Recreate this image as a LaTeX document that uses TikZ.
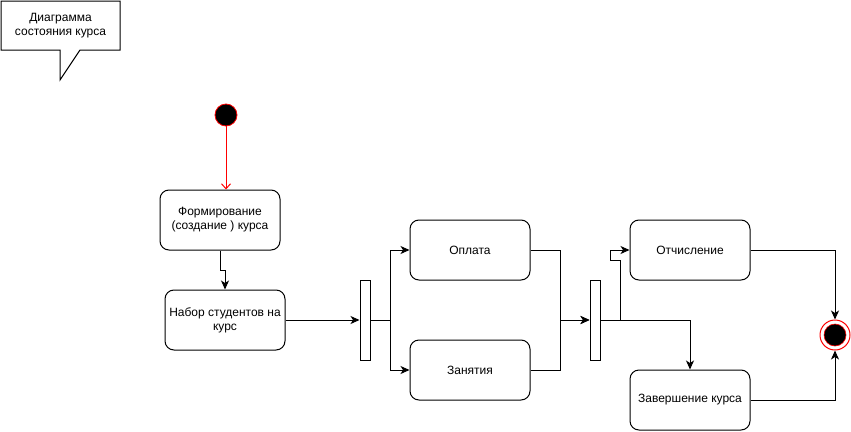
\documentclass[tikz,border=0pt]{standalone}
\usepackage{fontspec}
\setmainfont{Liberation Sans}
\usetikzlibrary{arrows.meta,calc}
\tikzset{
  state/.style={draw, line width=1pt, rounded corners=9pt, minimum width=120pt, minimum height=60pt, inner sep=0pt, align=center, font=\fontsize{12}{14}\selectfont},
  bar/.style={draw, line width=1pt, fill=white, minimum width=10pt, minimum height=80pt, inner sep=0pt},
  arr/.style={line width=1pt, -{Stealth[length=9pt,width=8pt,inset=2.5pt]}},
  redarr/.style={line width=1pt, red, -{Straight Barb[length=5pt,width=9pt]}},
}
\begin{document}
\begin{tikzpicture}[x=1pt,y=-1pt]
\useasboundingbox (0,0) rectangle (851,431);
% callout
\draw[line width=1pt, fill=white] (1,1) -- (120,1) -- (120,50) -- (80,50) -- (60,80) -- (60,50) -- (1,50) -- cycle;
\node[align=center, font=\fontsize{12}{14}\selectfont] (note) at (60.5,25.5) {Диаграмма\\состояния курса};
% initial
\node[circle, fill=black, draw=red, line width=0.8pt, minimum size=22pt, inner sep=0pt] (init) at (226,115) {};
% states
\node[state] (form) at (220,220) {Формирование\\(создание ) курса};
\node[state] (nabor) at (225,320) {Набор студентов на\\курс};
\node[bar] (bar1) at (365,320) {};
\node[state] (opl) at (470,250) {Оплата};
\node[state] (zan) at (470,370) {Занятия};
\node[bar] (bar2) at (595,320) {};
\node[state] (otch) at (690,250) {Отчисление};
\node[state] (zav) at (690,400) {Завершение курса};
% final
\node[circle, fill=white, draw=red, line width=1pt, minimum size=30pt, inner sep=0pt] (fin) at (835,335) {};
\node[circle, fill=black, draw=red, line width=0.6pt, minimum size=22pt, inner sep=0pt] (finin) at (fin.center) {};
% edges
\draw[redarr] (init.south) -- (init.south |- form.north);
\draw[arr] (form.south) -- ++(0,20) -| (nabor.north);
\draw[arr] (nabor.east) -- (bar1.west);
\draw[arr] (bar1.east) -- ++(20,0) |- (opl.west);
\draw[arr] (bar1.east) -- ++(20,0) |- (zan.west);
\draw[arr] (opl.east) -- ++(30,0) |- (bar2.west);
\draw[arr] (zan.east) -- ++(30,0) |- (bar2.west);
\draw[arr] (bar2.east) -- ++(20,0) -- ++(0,-60) -- ++(-10,0) |- (otch.west);
\draw[arr] (bar2.east) -| (zav.north);
\draw[arr] (otch.east) -| (fin.north);
\draw[arr] (zav.east) -| (fin.south);
\end{tikzpicture}
\end{document}
